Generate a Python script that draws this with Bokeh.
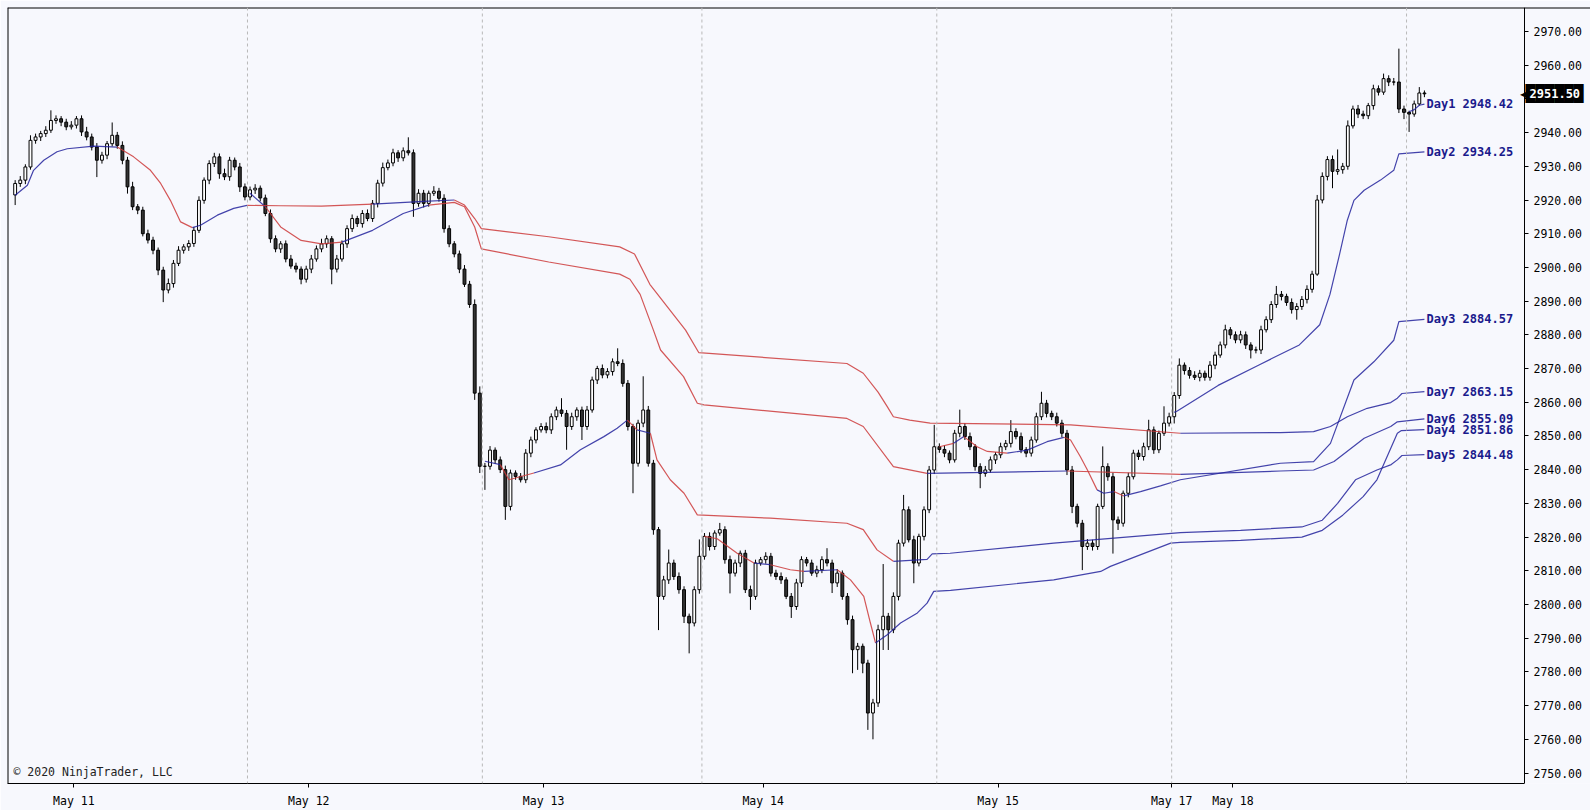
from bokeh.plotting import figure
from bokeh.models import (Range1d, FixedTicker, NumeralTickFormatter, Span, Label,
                          LinearAxis)
from bokeh.embed import file_html
from bokeh.resources import INLINE
from bokeh.core.properties import value

# ---------------- data ----------------
session_lengths = [46, 46, 43, 46, 46, 46, 4]
date_labels = ["May 11", "May 12", "May 13", "May 14", "May 15", "May 17", "May 18"]
price_ticks = list(range(2750, 2971, 10))
first_open = 2921.5
last_price = 2951.50

close_s1 = [2924.9, 2925.9, 2929.8, 2937.7, 2938.7, 2939.7, 2940.7, 2943.6, 2944.1, 2943.1,
            2941.7, 2942.2, 2944.1, 2940.2, 2938.7, 2935.7, 2931.8, 2933.3, 2936.7, 2939.2,
            2936.2, 2931.8, 2923.9, 2918.0, 2917.0, 2910.0, 2908.1, 2905.1, 2899.2, 2893.3,
            2895.2, 2901.2, 2905.1, 2906.1, 2907.1, 2911.0, 2919.9, 2925.9, 2930.8, 2932.8,
            2927.8, 2926.9, 2931.8, 2929.8, 2923.9, 2920.9]
close_s2 = [2923.0, 2923.5, 2920.6, 2916.0, 2908.5, 2905.5, 2907.0, 2902.5, 2900.4, 2899.5,
            2896.5, 2899.5, 2902.5, 2905.5, 2907.0, 2908.5, 2899.5, 2902.5, 2907.0, 2911.5,
            2914.5, 2913.0, 2916.0, 2914.5, 2919.0, 2925.0, 2929.6, 2931.0, 2934.0, 2932.5,
            2934.6, 2934.0, 2919.0, 2922.0, 2919.0, 2922.0, 2922.6, 2920.5, 2911.5, 2907.0,
            2904.0, 2899.5, 2895.0, 2889.0, 2862.7, 2841.0]
close_s3 = [2841.0, 2845.8, 2842.9, 2840.0, 2829.1, 2839.0, 2838.0, 2837.0, 2844.9, 2848.8,
            2851.8, 2852.8, 2851.8, 2855.7, 2857.7, 2856.7, 2852.8, 2855.7, 2857.7, 2852.8,
            2857.7, 2866.6, 2870.0, 2868.1, 2869.1, 2872.0, 2871.5, 2865.6, 2852.8, 2841.9,
            2853.8, 2857.7, 2841.9, 2822.2, 2802.4, 2807.3, 2812.3, 2808.3, 2804.4, 2796.5,
            2794.5, 2804.4, 2814.3]
close_s4 = [2820.2, 2817.2, 2821.2, 2822.2, 2813.3, 2809.3, 2812.3, 2815.2, 2804.4, 2802.4,
            2812.3, 2813.3, 2814.3, 2809.3, 2808.3, 2807.3, 2802.4, 2799.4, 2806.4, 2813.3,
            2812.3, 2809.3, 2810.3, 2813.3, 2812.3, 2806.4, 2809.3, 2802.4, 2795.5, 2786.6,
            2787.6, 2782.6, 2767.8, 2770.8, 2792.5, 2796.5, 2792.5, 2802.4, 2818.2, 2828.1,
            2819.2, 2812.3, 2820.2, 2828.1, 2839.9, 2846.8]
close_s5 = [2846.0, 2844.9, 2842.9, 2850.8, 2852.8, 2849.8, 2846.8, 2840.9, 2838.9, 2839.9,
            2842.9, 2844.4, 2846.8, 2847.8, 2851.3, 2849.8, 2845.9, 2844.9, 2848.8, 2855.7,
            2859.7, 2856.7, 2855.7, 2853.8, 2850.8, 2839.9, 2829.1, 2824.1, 2817.2, 2818.2,
            2817.2, 2829.1, 2840.9, 2837.9, 2825.1, 2824.1, 2833.0, 2837.9, 2844.9, 2843.9,
            2846.8, 2851.8, 2845.9, 2850.8, 2853.8, 2855.7]
close_s6 = [2862.0, 2871.0, 2869.4, 2868.0, 2867.4, 2868.6, 2867.4, 2871.0, 2874.0, 2877.0,
            2881.5, 2880.0, 2878.5, 2880.0, 2877.0, 2875.5, 2875.5, 2881.5, 2884.5, 2889.0,
            2892.0, 2891.4, 2889.6, 2887.5, 2888.4, 2890.5, 2893.5, 2898.0, 2920.0, 2927.0,
            2932.0, 2928.5, 2929.0, 2930.0, 2942.0, 2947.0, 2945.5, 2945.0, 2948.0, 2953.0,
            2952.0, 2956.0, 2955.0, 2955.0, 2947.0, 2946.0]
close_s7 = [2945.5, 2948.5, 2951.75, 2951.5]

# wick lengths above / below the candle body (points)
upwick_s1 = [1.0, 1.2, 0.8, 1.5, 1.0, 0.8, 1.2, 3.0, 1.0, 0.8, 1.0, 1.2, 0.8, 1.0, 1.5, 1.0,
             1.2, 1.0, 0.8, 3.8, 1.0, 1.2, 1.0, 1.5, 0.8, 1.0, 1.2, 1.0, 0.8, 1.0, 1.5, 1.0,
             1.2, 0.8, 1.0, 1.0, 1.2, 0.8, 1.0, 1.2, 1.0, 1.5, 1.0, 0.8, 1.2, 1.0]
lowwick_s1 = [3.0, 1.0, 1.2, 0.8, 1.0, 1.2, 1.0, 0.8, 1.0, 1.2, 1.0, 0.8, 1.0, 1.2, 1.0, 1.0,
              5.0, 1.0, 1.2, 0.8, 1.0, 1.2, 2.0, 1.0, 1.2, 0.8, 1.0, 1.2, 1.5, 3.6, 1.0, 1.2,
              0.8, 1.0, 1.2, 1.0, 0.8, 1.0, 1.2, 1.0, 1.5, 1.0, 1.2, 1.0, 1.5, 1.0]
upwick_s2 = [1.0, 1.2, 0.8, 1.0, 1.2, 1.0, 0.8, 1.0, 1.2, 1.0, 0.8, 1.0, 1.2, 1.0, 1.5, 1.0,
             0.8, 1.2, 1.0, 1.0, 1.2, 0.8, 1.0, 1.2, 1.0, 1.0, 1.5, 1.0, 1.2, 0.8, 1.0, 4.0,
             1.0, 1.2, 1.0, 0.8, 1.5, 1.0, 1.2, 1.0, 0.8, 1.0, 1.2, 1.0, 1.5, 2.0]
lowwick_s2 = [1.0, 1.2, 1.0, 0.8, 1.2, 1.0, 1.2, 1.0, 0.8, 1.0, 1.5, 1.0, 1.2, 0.8, 1.0, 1.2,
              4.5, 1.0, 0.8, 1.2, 1.0, 1.0, 1.2, 0.8, 1.0, 1.2, 1.0, 0.8, 1.0, 1.2, 1.0, 0.8,
              4.0, 1.0, 1.2, 1.0, 0.8, 1.0, 1.2, 1.0, 1.0, 1.2, 0.8, 1.0, 2.0, 2.0]
upwick_s3 = [1.0, 1.2, 0.8, 1.0, 1.2, 1.0, 0.8, 1.0, 1.2, 1.0, 0.8, 1.0, 1.2, 1.0, 1.0, 3.5,
             1.0, 1.2, 0.8, 1.0, 1.2, 1.0, 0.8, 1.2, 1.0, 1.0, 4.0, 1.2, 1.0, 0.8, 1.0, 10.0,
             1.2, 1.0, 0.8, 1.2, 4.0, 1.0, 1.2, 1.0, 0.8, 1.0, 5.0]
lowwick_s3 = [7.0, 1.0, 1.2, 1.0, 4.0, 1.2, 1.0, 0.8, 1.0, 1.2, 1.0, 0.8, 1.0, 1.2, 1.0, 1.0,
              6.9, 1.0, 1.2, 4.0, 1.0, 0.8, 1.2, 1.0, 1.0, 1.2, 0.8, 1.0, 1.2, 8.9, 1.0, 1.2,
              1.0, 1.5, 10.0, 1.0, 1.2, 1.0, 1.2, 2.0, 9.0, 1.0, 1.2]
upwick_s4 = [1.0, 1.2, 0.8, 2.0, 1.0, 1.2, 1.0, 0.8, 1.0, 1.2, 1.0, 0.8, 1.2, 1.0, 1.0, 1.2,
             0.8, 1.0, 1.2, 1.0, 0.8, 1.0, 1.2, 1.0, 3.4, 1.0, 1.2, 0.8, 1.0, 1.2, 1.0, 0.8,
             1.0, 1.2, 1.5, 15.5, 1.0, 1.2, 1.0, 4.4, 1.0, 1.2, 0.8, 1.0, 1.2, 6.5]
lowwick_s4 = [1.0, 1.2, 1.0, 0.8, 1.2, 6.0, 1.0, 1.2, 1.0, 4.0, 1.0, 0.8, 1.2, 1.0, 1.0, 1.2,
              0.8, 3.4, 1.0, 1.2, 1.0, 0.8, 1.2, 1.0, 1.0, 3.0, 1.2, 1.0, 1.5, 7.0, 6.0, 3.0,
              5.0, 7.8, 1.2, 6.0, 6.0, 1.0, 1.2, 1.0, 0.8, 6.0, 1.0, 1.2, 1.0, 1.2]
upwick_s5 = [1.0, 1.2, 0.8, 1.0, 5.0, 1.0, 1.2, 0.8, 1.0, 1.2, 1.0, 0.8, 1.2, 1.0, 3.4, 1.0,
             1.2, 0.8, 1.0, 1.2, 3.4, 1.0, 0.8, 1.2, 1.0, 1.0, 1.2, 0.8, 1.0, 1.2, 1.0, 0.8,
             6.0, 1.0, 1.2, 1.0, 0.8, 1.2, 1.0, 1.0, 1.2, 3.0, 1.0, 0.8, 5.0, 1.2]
lowwick_s5 = [1.0, 1.2, 1.0, 0.8, 1.2, 1.0, 1.0, 1.2, 4.4, 1.0, 0.8, 1.2, 1.0, 1.0, 1.2, 0.8,
              1.0, 1.2, 1.0, 0.8, 1.0, 1.2, 1.0, 1.0, 1.2, 1.5, 2.0, 1.2, 7.0, 1.0, 1.2, 1.0,
              0.8, 1.2, 10.0, 2.0, 1.0, 1.2, 0.8, 1.0, 1.2, 1.0, 1.2, 1.0, 0.8, 1.0]
upwick_s6 = [1.0, 2.0, 0.8, 1.0, 1.2, 1.0, 0.8, 1.2, 1.0, 1.0, 1.5, 0.8, 1.0, 1.2, 1.0, 0.8,
             1.0, 1.2, 1.0, 1.0, 2.5, 1.0, 0.8, 1.2, 1.0, 1.0, 1.2, 1.0, 1.5, 1.2, 1.0, 1.2,
             6.0, 1.0, 1.6, 1.0, 1.2, 1.0, 0.8, 1.2, 1.0, 1.5, 1.0, 1.2, 9.9, 1.0]
lowwick_s6 = [2.0, 1.0, 1.2, 1.0, 0.8, 1.2, 1.0, 1.0, 1.2, 0.8, 1.0, 1.2, 1.0, 1.0, 1.2, 2.5,
              1.0, 1.2, 0.8, 1.0, 1.0, 1.2, 1.0, 1.2, 3.0, 1.0, 1.2, 1.0, 0.5, 1.0, 1.2, 5.0,
              1.0, 1.2, 1.0, 0.8, 1.2, 1.0, 1.0, 1.2, 1.0, 0.8, 1.2, 1.0, 1.2, 2.0]
upwick_s7 = [0.5, 1.0, 1.75, 0.75]
lowwick_s7 = [5.3, 0.8, 0.5, 1.0]

# anchored VWAP lines (bar index, price) - Day7 anchored at first session ... Day1 at last
day7_x = [0, 2.4, 3.6, 5.6, 8.2, 10.2, 15.4, 20, 23.2, 26.5, 28.5, 30.4, 32.4, 34.7, 36.3, 39.6,
          42.8, 45.4, 52, 60, 70, 80, 86, 88, 90, 91.3, 104.5, 118.4, 121.3, 124.3, 131.3, 133.9,
          162.9, 166.1, 169, 170.8, 172, 175.2, 179.2, 206.7, 228.2, 247.8, 254.3, 257.6, 260.9,
          264.8, 269.4, 270.7, 271.6, 276]
day7_y = [2921.4, 2924.4, 2928.8, 2931.8, 2934.3, 2935.2, 2936.0, 2935.7, 2932.8, 2928.8, 2924.9,
          2919.9, 2913.5, 2911.8, 2912.5, 2915.5, 2917.5, 2918.4, 2918.3, 2918.2, 2918.8, 2919.6,
          2920.0, 2918.5, 2914.5, 2911.5, 2909.1, 2906.1, 2904.0, 2895.0, 2881.4, 2874.7, 2871.5,
          2868.6, 2863.0, 2858.7, 2855.7, 2854.7, 2853.8, 2853.3, 2850.8, 2851.0, 2851.3, 2852.8,
          2855.7, 2858.2, 2859.9, 2861.2, 2862.6, 2863.15]
day6_x = [46, 49, 52, 56, 60, 64, 70, 76, 81, 86, 88, 90, 91.3, 104.5, 118.4, 120.4, 122.4, 125,
          126.4, 130.9, 133.6, 134.9, 162.9, 166.1, 172, 178.6, 206, 228.2, 247.8, 254.3, 258.3,
          264.2, 269.4, 270.7, 276]
day6_y = [2922.0, 2918.0, 2912.0, 2908.0, 2907.0, 2907.5, 2911.0, 2916.0, 2918.5, 2919.3, 2918.0,
          2912.0, 2905.5, 2901.6, 2898.0, 2896.5, 2892.0, 2881.4, 2875.5, 2867.6, 2859.7, 2859.2,
          2855.2, 2852.8, 2840.9, 2838.9, 2839.6, 2838.6, 2839.6, 2839.9, 2842.4, 2849.3, 2852.8,
          2854.2, 2855.09]
day5_x = [92, 95, 96.7, 101.6, 106.8, 110.7, 115.3, 117.9, 119.9, 121.8, 124.4, 125.7, 128.3, 131,
          133.6, 147.9, 162.9, 166.1, 168.8, 172, 178.6, 179.6, 183.1, 203.4, 228.2, 240, 252,
          256, 259, 262.5, 266.7, 269.5, 270.7, 271.6, 276]
day5_y = [2842.5, 2841.5, 2837.0, 2839.0, 2841.4, 2845.9, 2849.8, 2852.3, 2854.7, 2851.8, 2850.8,
          2842.9, 2837.0, 2833.0, 2826.6, 2825.6, 2824.1, 2822.2, 2816.2, 2812.8, 2813.4, 2815.0,
          2815.2, 2818.2, 2821.3, 2822.0, 2823.0, 2825.0, 2830.0, 2837.0, 2839.9, 2841.5, 2842.9,
          2844.2, 2844.48]
day4_x = [135, 137.5, 141.4, 144.7, 147.9, 151.8, 154.5, 161, 163.6, 166.2, 167.5, 168.5, 170.8,
          173.4, 176.7, 178.6, 179.9, 183.2, 203.4, 212.6, 214.5, 226.3, 228.2, 240, 252, 256,
          260, 264, 266.7, 270.7, 271.5, 276]
day4_y = [2820.2, 2819.5, 2815.2, 2812.3, 2811.8, 2810.3, 2809.8, 2810.3, 2807.3, 2802.4, 2794.5,
          2788.6, 2791.0, 2794.5, 2797.5, 2800.4, 2803.9, 2804.2, 2807.3, 2809.8, 2811.3, 2818.2,
          2818.4, 2819.0, 2820.0, 2822.0, 2826.5, 2832.0, 2837.0, 2850.8, 2851.6, 2851.86]
day3_x = [181, 183.8, 185.8, 188.4, 190.4, 194.3, 198.2, 202.1, 205.4, 206.7, 208.6, 210, 211.9,
          213.2, 215.2, 217.1, 220.4, 224.3, 228.2, 247.8, 254.3, 257.6, 262.2, 266.1, 270, 271, 276]
day3_y = [2846.8, 2847.8, 2849.8, 2846.8, 2845.4, 2844.9, 2845.8, 2848.3, 2849.6, 2848.8, 2843.9,
          2839.9, 2834.0, 2833.0, 2833.5, 2832.2, 2833.5, 2835.2, 2837.0, 2841.9, 2842.4, 2847.8,
          2866.6, 2872.0, 2878.4, 2883.9, 2884.57]
day2_x = [227, 227.6, 235.6, 243.5, 251.5, 255.5, 257.5, 259.4, 260.9, 262.2, 264.2, 267.4, 270,
          271, 276]
day2_y = [2857.0, 2857.4, 2865.0, 2871.0, 2877.0, 2883.0, 2892.0, 2904.0, 2914.0, 2919.9, 2922.9,
          2925.9, 2928.8, 2933.7, 2934.25]
day1_x = [273, 274, 275, 276]
day1_y = [2946.2, 2946.8, 2948.1, 2948.42]

# ---------------- build series ----------------
closes = close_s1 + close_s2 + close_s3 + close_s4 + close_s5 + close_s6 + close_s7
upw = upwick_s1 + upwick_s2 + upwick_s3 + upwick_s4 + upwick_s5 + upwick_s6 + upwick_s7
loww = lowwick_s1 + lowwick_s2 + lowwick_s3 + lowwick_s4 + lowwick_s5 + lowwick_s6 + lowwick_s7
n = len(closes)
opens = [first_open] + closes[:-1]
idx = list(range(n))
tops = [max(o, c) for o, c in zip(opens, closes)]
bots = [min(o, c) for o, c in zip(opens, closes)]
highs = [t + u for t, u in zip(tops, upw)]
lows = [b - l for b, l in zip(bots, loww)]
body_col = ["#ffffff" if c >= o else "#333333" for o, c in zip(opens, closes)]

starts = []
acc = 0
for L in session_lengths:
    starts.append(acc)
    acc += L
boundaries = [s - 0.5 for s in starts[1:]]
xticks = [s + 11.5 for s in starts[:5]] + [starts[5] - 0.5, starts[5] + 11.5]

BG = "#f7f8fd"
W, H = 1590, 810
PXB = 5.106                      # pixels per bar
X0 = -1.50
X1 = X0 + (W - 7) / PXB          # frame spans the full width
AXIS_X = X0 + 1517 / PXB         # price scale sits 1517 px from the frame's left edge
Y0, Y1 = 2746.89, 2977.11

p = figure(width=W, height=H, output_backend="svg", toolbar_location=None,
           x_range=Range1d(X0, X1), y_range=Range1d(Y0, Y1),
           y_axis_location=None,
           min_border_left=7, min_border_top=7, min_border_right=0, min_border_bottom=26)
p.background_fill_color = BG
p.border_fill_color = BG
p.outline_line_color = None
for g in p.grid:
    g.visible = False

# chart border: left and top edges
p.add_layout(Span(location=X0, dimension="height", line_color="black", line_width=2))
p.add_layout(Span(location=Y1, dimension="width", line_color="black", line_width=2))

MONO = "DejaVu Sans Mono"
yax = LinearAxis(fixed_location=AXIS_X, ticker=FixedTicker(ticks=price_ticks),
                 formatter=NumeralTickFormatter(format="0.00"))
p.add_layout(yax, "right")

for ax in (p.xaxis[0], yax):
    ax.axis_line_color = "black"
    ax.major_tick_line_color = "black"
    ax.major_tick_in = 0
    ax.major_tick_out = 4
    ax.minor_tick_line_color = None
    ax.major_label_text_font = MONO
    ax.major_label_text_font_size = "11.5px"
    ax.major_label_text_color = "#000000"
yax.major_label_standoff = 5
p.xaxis[0].ticker = FixedTicker(ticks=xticks)
p.xaxis[0].major_label_overrides = {t: lab for t, lab in zip(xticks, date_labels)}
p.xaxis[0].major_label_standoff = 6
p.xaxis[0].bounds = (X0, AXIS_X)

for b in boundaries:
    p.add_layout(Span(location=b, dimension="height", line_color="#b9b9b9",
                      line_dash="3 3", line_width=1))

# candles
p.segment(x0=idx, y0=highs, x1=idx, y1=lows, line_color="black", line_width=1)
p.vbar(x=idx, width=0.56, top=tops, bottom=bots, fill_color=body_col,
       line_color="black", line_width=1)

# anchored VWAP lines coloured red above price, blue below
RED = "#cc3a3a"
BLUE = "#23239c"
lines = [(day1_x, day1_y), (day2_x, day2_y), (day3_x, day3_y), (day4_x, day4_y),
         (day5_x, day5_y), (day6_x, day6_y), (day7_x, day7_y)]
mx, my, mc = [], [], []
for xk, yk in lines:
    cur_x, cur_y, cur_c = [xk[0]], [yk[0]], None
    for a in range(len(xk) - 1):
        xm = 0.5 * (xk[a] + xk[a + 1])
        ym = 0.5 * (yk[a] + yk[a + 1])
        bi = min(max(int(round(xm)), 0), n - 1)
        col = RED if ym > closes[bi] else BLUE
        if cur_c is not None and col != cur_c:
            mx.append(cur_x); my.append(cur_y); mc.append(cur_c)
            cur_x, cur_y = [xk[a]], [yk[a]]
        cur_c = col
        cur_x.append(xk[a + 1]); cur_y.append(yk[a + 1])
    mx.append(cur_x); my.append(cur_y); mc.append(cur_c)
p.multi_line(xs=mx, ys=my, line_color=mc, line_width=1.2, line_alpha=0.85)

# end labels
lab_x, lab_y, lab_t = [], [], []
for k, (xk, yk) in enumerate(lines):
    lab_x.append(xk[-1] + 0.4)
    lab_y.append(yk[-1])
    lab_t.append(f"Day{k + 1} {yk[-1]:.2f}")
p.text(x=lab_x, y=lab_y, text=lab_t, text_font=value(MONO), text_font_style="bold",
       text_font_size="12px", text_color="#1a1a8c", text_baseline="middle", text_align="left")

# last price tag on the price scale
tag_x = AXIS_X + 0.2
p.add_layout(Label(x=tag_x, y=last_price, x_units="data", y_units="data",
                   text="\u2588" * 6, text_color="black", text_font=MONO,
                   text_font_size="16px", text_baseline="middle", text_align="left"))
p.add_layout(Label(x=tag_x, y=last_price, x_units="data", y_units="data",
                   text="\u25C0", text_color="black", text_font=MONO,
                   text_font_size="12px", text_baseline="middle", text_align="right",
                   x_offset=2))
p.add_layout(Label(x=tag_x, y=last_price, x_units="data", y_units="data",
                   text="2951.50", text_color="white", text_font=MONO,
                   text_font_size="12px", text_font_style="bold", text_baseline="middle",
                   text_align="left", x_offset=4))

# copyright
p.add_layout(Label(x=6, y=12, x_units="screen", y_units="screen",
                   text="\u00A9 2020 NinjaTrader, LLC", text_font=MONO,
                   text_font_size="11.5px", text_color="#222222", text_baseline="middle"))

open("out.html", "w").write(file_html(p, INLINE))
